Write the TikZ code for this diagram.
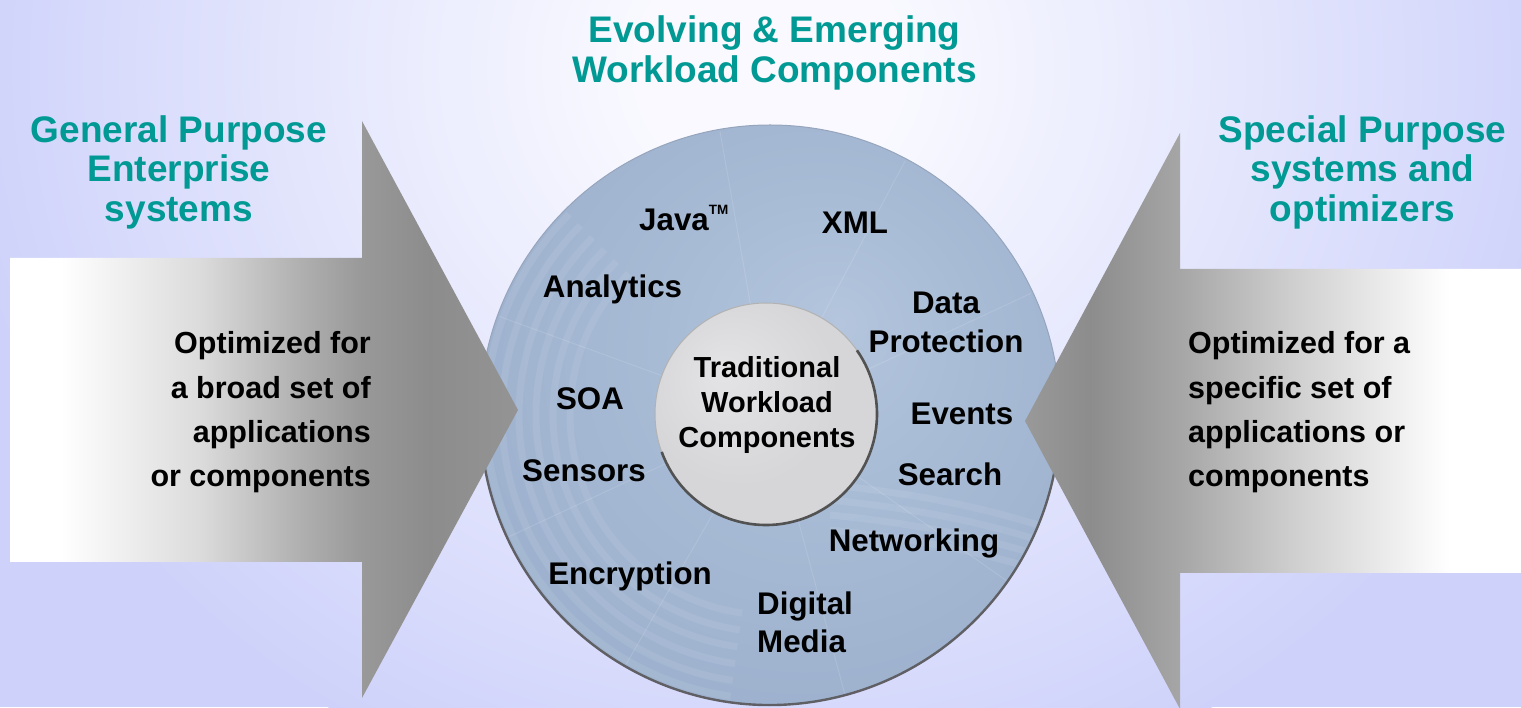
\documentclass[tikz,border=0pt]{standalone}
\usepackage{fontspec}
\setmainfont{Liberation Sans}
\definecolor{bglav}{RGB}{206,210,250}
\definecolor{bgwhite}{RGB}{249,249,255}
\definecolor{tealtxt}{RGB}{0,153,148}
\definecolor{diskin}{RGB}{180,197,221}
\definecolor{diskmid}{RGB}{167,187,213}
\definecolor{diskout}{RGB}{157,177,206}
\definecolor{inin}{RGB}{228,228,231}
\definecolor{inout}{RGB}{214,214,217}
\definecolor{rimlight}{RGB}{150,165,188}
\definecolor{rimmid}{RGB}{120,128,140}
\definecolor{rimdark}{RGB}{95,95,100}
\definecolor{gA}{gray}{0.94}
\definecolor{gB}{gray}{0.86}
\definecolor{gC}{gray}{0.82}
\definecolor{gD}{gray}{0.69}
\definecolor{gE}{gray}{0.65}
\definecolor{gF}{gray}{0.60}
\definecolor{gG}{gray}{0.55}
\definecolor{gH}{gray}{0.58}
\pgfdeclareradialshading{bgshade}{\pgfpoint{0bp}{0bp}}{color(0bp)=(bgwhite); color(4bp)=(bgwhite); color(25bp)=(bglav); color(50bp)=(bglav)}
\pgfdeclareradialshading{diskshade}{\pgfpoint{6bp}{8bp}}{color(0bp)=(diskin); color(14bp)=(diskmid); color(30bp)=(diskout); color(50bp)=(diskout)}
\pgfdeclareradialshading{innershade}{\pgfpoint{-10bp}{10bp}}{color(0bp)=(inin); color(22bp)=(inout); color(50bp)=(inout)}
\pgfdeclarehorizontalshading{lshade}{100bp}{color(0bp)=(white); color(30bp)=(white); color(43.7bp)=(gB); color(53.5bp)=(gD); color(59.6bp)=(gF); color(66.3bp)=(gG); color(75bp)=(gH); color(100bp)=(gH)}
\pgfdeclarehorizontalshading{rshade}{100bp}{color(0bp)=(gF); color(25bp)=(gF); color(31.6bp)=(gG); color(40.6bp)=(gE); color(52.7bp)=(gC); color(62.8bp)=(gA); color(67.8bp)=(white); color(100bp)=(white)}
\tikzset{
  lbl/.style={font=\fontsize{31.3}{38.5}\selectfont\bfseries, text=black, inner sep=0pt},
  ttl/.style={font=\fontsize{37}{39.5}\selectfont\bfseries, text=tealtxt, inner sep=0pt, align=center},
  bodytxt/.style={font=\fontsize{30.5}{44.3}\selectfont\bfseries, text=black, inner sep=0pt},
  streak/.style={white, opacity=0.08, line width=7pt},
  ray/.style={white, opacity=0.12, line width=1pt}
}
\begin{document}
\begin{tikzpicture}[x=1pt, y=1pt]
\useasboundingbox (0,0) rectangle (1521,707);
% background
\fill[bglav] (0,0) rectangle (1521,707);
\begin{scope}
  \clip (0,0) rectangle (1521,707);
  \shade[shading=bgshade] (770,640) ellipse [x radius=820pt, y radius=760pt];
\end{scope}
% disk
\coordinate (dc) at (770,292);
\coordinate (ic) at (766,293);
\shade[shading=diskshade] (dc) circle[radius=290pt];
\begin{scope}
  \clip (dc) circle[radius=288pt];
  \foreach \r in {200,217,234,251,268,284}
    \draw[streak] ([shift={(135:\r pt)}]dc) arc[start angle=135, end angle=262, radius=\r pt];
  \foreach \a in {100,62,25,-35,-75,-120,205,160}
    \draw[ray] (dc) -- ++(\a:300pt);
  \foreach \dy in {0,15,30,45}
    \draw[streak] (830,222-\dy) .. controls (930,212-\dy) and (1000,196-\dy) .. (1075,170-\dy);
\end{scope}
\draw[rimlight, line width=1pt] (dc) circle[radius=290pt];
\draw[rimmid, line width=1.6pt] ([shift={(170:290pt)}]dc) arc[start angle=170, end angle=190, radius=290pt];
\draw[rimmid, line width=1.6pt] ([shift={(350:290pt)}]dc) arc[start angle=350, end angle=370, radius=290pt];
\draw[rimdark, line width=2.4pt] ([shift={(190:290pt)}]dc) arc[start angle=190, end angle=350, radius=290pt];
% inner circle
\shade[shading=innershade] (ic) circle[radius=111pt];
\draw[gray!60, line width=1pt] (ic) circle[radius=111pt];
\draw[black!68, line width=2.6pt] ([shift={(-160:111pt)}]ic) arc[start angle=-160, end angle=35, radius=111pt];
% arrows
\shade[shading=lshade] (10,449) -- (362,449) -- (362,586) -- (518,297) -- (362,9) -- (362,145) -- (10,145) -- cycle;
\shade[shading=rshade] (1521,438) -- (1180,438) -- (1180,574) -- (1025,286) -- (1180,-2) -- (1180,134) -- (1521,134) -- cycle;
% titles
\node[ttl] (title) at (774.5,653.9) {Evolving \& Emerging\\Workload Components};
\node[ttl] (gptitle) at (179,534.9) {General Purpose\\Enterprise\\systems};
\node[ttl] (sptitle) at (1362.5,534.9) {Special Purpose\\systems and\\optimizers};
% bodies
\node[bodytxt, anchor=east, align=right] (gpbody) at (371,294.5) {Optimized for\\a broad set of\\applications\\or components};
\node[bodytxt, anchor=west, align=left] (spbody) at (1188,294.5) {Optimized for a\\specific set of\\applications or\\components};
% disk labels
\node[lbl, anchor=base west] (java) at (639,476) {Java\raisebox{16.5pt}{\fontsize{13.5}{13.5}\selectfont TM}};
\node[lbl, anchor=base] (xml) at (855,473) {XML};
\node[lbl, anchor=base] (analytics) at (612.5,409) {Analytics};
\node[lbl, align=center] (dataprot) at (946,384.4) {Data\\Protection};
\node[lbl, anchor=base] (soa) at (590,297) {SOA};
\node[lbl, align=center, font=\fontsize{29}{35}\selectfont\bfseries] (trad) at (767,302.4) {Traditional\\Workload\\Components};
\node[lbl, anchor=base] (events) at (962,282) {Events};
\node[lbl, anchor=base] (sensors) at (584,225) {Sensors};
\node[lbl, anchor=base] (search) at (950,221) {Search};
\node[lbl, anchor=base] (networking) at (914,155) {Networking};
\node[lbl, anchor=base] (encryption) at (630,122) {Encryption};
\node[lbl, anchor=west, align=left] (digital) at (757,84.9) {Digital\\Media};
\end{tikzpicture}
\end{document}
